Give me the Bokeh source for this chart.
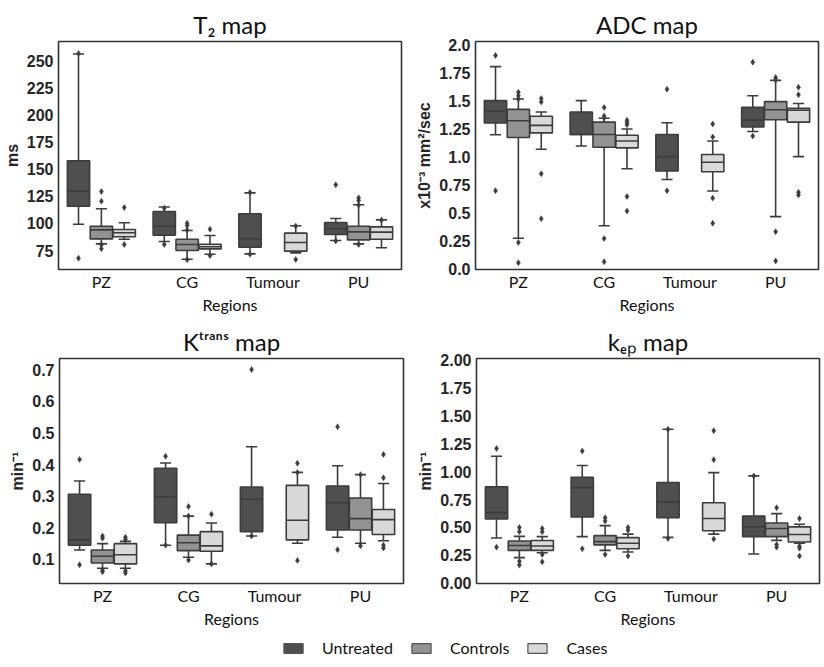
from bokeh.plotting import figure
from bokeh.models import FactorRange, ColumnDataSource, FixedTicker, Legend, LegendItem, Range1d, NumeralTickFormatter
from bokeh.transform import dodge
from bokeh.layouts import column, row
from bokeh.embed import file_html
from bokeh.resources import INLINE

REGIONS = ["PZ", "CG", "Tumour", "PU"]
GROUPS = ["Untreated", "Controls", "Cases"]

# five-number summaries per region: [whisker low, Q1, median, Q3, whisker high]
T2_UNTREATED = [[99.2, 115.8, 129.6, 157.6, 256.0], [83.3, 89.1, 97.4, 110.9, 115.0], [71.9, 78.1, 85.8, 108.8, 128.1], [84.2, 89.7, 95.0, 100.8, 104.5]]
T2_CONTROLS = [[81.1, 85.7, 94.0, 97.4, 113.4], [67.0, 75.0, 80.5, 85.4, 93.4], None, [81.1, 84.8, 92.2, 97.4, 117.1]]
T2_CASES = [[85.4, 87.6, 91.3, 94.3, 100.5], [71.6, 76.5, 78.4, 80.8, 88.8], [72.8, 74.4, 82.4, 91.0, 97.8], [77.5, 85.4, 91.9, 96.8, 103.2]]
T2_OUT_UNTREATED = [[67.9, 256.5], [80.5, 114.0], [71.5, 128.5], [135.5, 83.8]]
T2_OUT_CONTROLS = [[129.3, 120.4, 80.3, 76.6], [100.2, 98.0, 93.8, 66.5], [], [123.5, 121.0, 116.8, 80.5]]
T2_OUT_CASES = [[114.6, 80.5], [94.6, 70.3], [66.7, 97.5], [103.0]]

ADC_UNTREATED = [[1.20, 1.305, 1.41, 1.506, 1.81], [1.10, 1.202, 1.202, 1.404, 1.506], [0.80, 0.876, 1.004, 1.202, 1.307], [1.229, 1.27, 1.331, 1.445, 1.55]]
ADC_CONTROLS = [[0.274, 1.176, 1.325, 1.427, 1.52], [0.385, 1.088, 1.202, 1.313, 1.348], None, [0.467, 1.334, 1.424, 1.497, 1.687]]
ADC_CASES = [[1.071, 1.217, 1.284, 1.366, 1.404], [0.896, 1.083, 1.144, 1.196, 1.252], [0.697, 0.869, 0.954, 1.024, 1.144], [1.004, 1.313, 1.419, 1.436, 1.48]]
ADC_OUT_UNTREATED = [[1.91, 0.70], [], [1.608, 0.70], [1.85, 1.188]]
ADC_OUT_CONTROLS = [[1.58, 1.55, 1.52, 0.236, 0.055], [1.445, 1.369, 1.35, 0.271, 0.064], [], [1.713, 1.69, 0.333, 0.07]]
ADC_OUT_CASES = [[1.524, 1.494, 0.852, 0.449], [1.33, 1.31, 1.29, 0.648, 0.517], [1.296, 1.18, 0.633, 0.408], [1.625, 1.559, 0.686, 0.662]]

KT_UNTREATED = [[0.130, 0.145, 0.162, 0.306, 0.348], [0.145, 0.216, 0.298, 0.388, 0.405], [0.174, 0.188, 0.290, 0.329, 0.456], [0.170, 0.193, 0.279, 0.332, 0.396]]
KT_CONTROLS = [[0.072, 0.0886, 0.110, 0.130, 0.150], [0.107, 0.128, 0.153, 0.177, 0.237], None, [0.151, 0.193, 0.229, 0.294, 0.368]]
KT_CASES = [[0.072, 0.086, 0.115, 0.150, 0.157], [0.086, 0.126, 0.143, 0.188, 0.215], [0.151, 0.162, 0.224, 0.334, 0.375], [0.159, 0.179, 0.226, 0.258, 0.340]]
KT_OUT_UNTREATED = [[0.416, 0.083], [0.426, 0.145], [0.70, 0.174], [0.519, 0.131]]
KT_OUT_CONTROLS = [[0.174, 0.167, 0.066, 0.061], [0.267, 0.237, 0.098], [], [0.368, 0.143]]
KT_OUT_CASES = [[0.170, 0.163, 0.064, 0.057], [0.243, 0.086], [0.404, 0.375, 0.097], [0.432, 0.358, 0.145, 0.136]]

KEP_UNTREATED = [[0.405, 0.575, 0.633, 0.865, 1.138], [0.417, 0.593, 0.857, 0.95, 1.055], [0.411, 0.587, 0.727, 0.903, 1.381], [0.261, 0.417, 0.505, 0.601, 0.962]]
KEP_CONTROLS = [[0.229, 0.294, 0.338, 0.378, 0.42], [0.294, 0.343, 0.373, 0.426, 0.516], None, [0.384, 0.417, 0.49, 0.54, 0.624]]
KEP_CASES = [[0.273, 0.294, 0.334, 0.382, 0.417], [0.279, 0.308, 0.358, 0.408, 0.44], [0.44, 0.47, 0.58, 0.721, 0.991], [0.358, 0.369, 0.437, 0.505, 0.528]]
KEP_OUT_UNTREATED = [[1.208, 0.323], [1.185, 0.308], [1.381, 0.40], [0.962]]
KEP_OUT_CONTROLS = [[0.499, 0.461, 0.197, 0.162], [0.587, 0.558, 0.258], [], [0.677, 0.346, 0.323]]
KEP_OUT_CASES = [[0.49, 0.461, 0.258, 0.191], [0.499, 0.475, 0.244], [1.367, 1.108, 0.396], [0.58, 0.332, 0.314, 0.244]]

T2_TICKS = [75, 100, 125, 150, 175, 200, 225, 250]
ADC_TICKS = [0.0, 0.25, 0.5, 0.75, 1.0, 1.25, 1.5, 1.75, 2.0]
ADC_TICK_LABELS = ["0.0", "0.25", "0.5", "0.75", "1.0", "1.25", "1.5", "1.75", "2.0"]
KT_TICKS = [0.1, 0.2, 0.3, 0.4, 0.5, 0.6, 0.7]
KEP_TICKS = [0.0, 0.25, 0.5, 0.75, 1.0, 1.25, 1.5, 1.75, 2.0]

COLORS = {"Untreated": "#4f4f4f", "Controls": "#939393", "Cases": "#d9d9d9"}
LINE = "#3c3c3c"
TXT = "#262626"
CAT_FONT = "Lato"
NUM_FONT = "Liberation Sans"
HUE_W = 0.8 / 3
BOX_W = 0.26
CAP_W = 0.13
OFFSETS = {"Untreated": -HUE_W, "Controls": 0.0, "Cases": HUE_W}


def make_panel(title, ylabel, stats, outs, yr, ticks, w, h, borders):
    bl, bt, br, bb = borders
    p = figure(x_range=FactorRange(factors=REGIONS), y_range=Range1d(*yr),
               width=w, height=h,
               min_border_left=bl, min_border_top=bt, min_border_right=br, min_border_bottom=bb,
               output_backend="svg", toolbar_location=None, title=title)
    p.title.text_font = CAT_FONT
    p.title.text_font_size = "24px"
    p.title.text_font_style = "normal"
    p.title.text_color = "#111111"
    p.title.align = "center"
    p.title.standoff = 6
    p.title.offset = 0
    p.outline_line_color = "#333333"
    p.outline_line_width = 1.6
    p.xgrid.visible = False
    p.ygrid.visible = False
    for ax in (p.xaxis[0], p.yaxis[0]):
        ax.axis_line_color = None
        ax.major_tick_line_color = None
        ax.minor_tick_line_color = None
        ax.major_tick_out = 0
        ax.major_tick_in = 0
        ax.minor_tick_out = 0
    p.xaxis.major_label_text_font = CAT_FONT
    p.xaxis.major_label_text_font_size = "16px"
    p.xaxis.major_label_text_color = "#111111"
    p.xaxis.major_label_standoff = 2
    p.xaxis.axis_label = "Regions"
    p.xaxis.axis_label_text_font = CAT_FONT
    p.xaxis.axis_label_text_font_size = "16px"
    p.xaxis.axis_label_text_font_style = "normal"
    p.xaxis.axis_label_text_color = "#111111"
    p.xaxis.axis_label_standoff = 1
    p.yaxis.ticker = FixedTicker(ticks=ticks)
    p.yaxis.major_label_text_font = NUM_FONT
    p.yaxis.major_label_text_font_style = "bold"
    p.yaxis.major_label_text_font_size = "16px"
    p.yaxis.major_label_text_color = TXT
    p.yaxis.major_label_standoff = 5
    p.yaxis.axis_label = ylabel
    p.yaxis.axis_label_text_font = NUM_FONT
    p.yaxis.axis_label_text_font_style = "bold"
    p.yaxis.axis_label_text_font_size = "16px"
    p.yaxis.axis_label_text_color = TXT
    p.yaxis.axis_label_standoff = 3

    for g, gstats, gouts in zip(GROUPS, stats, outs):
        off = OFFSETS[g]
        regs, lo, q1, med, q3, hi = [], [], [], [], [], []
        for r, s in zip(REGIONS, gstats):
            if s is None:
                continue
            regs.append(r)
            lo.append(s[0]); q1.append(s[1]); med.append(s[2]); q3.append(s[3]); hi.append(s[4])
        src = ColumnDataSource(dict(region=regs, lo=lo, q1=q1, med=med, q3=q3, hi=hi))
        xc = dodge("region", off, range=p.x_range)
        xl = dodge("region", off - CAP_W / 2, range=p.x_range)
        xr = dodge("region", off + CAP_W / 2, range=p.x_range)
        bl_ = dodge("region", off - BOX_W / 2, range=p.x_range)
        br_ = dodge("region", off + BOX_W / 2, range=p.x_range)
        p.segment(x0=xc, x1=xc, y0="q3", y1="hi", source=src, line_color=LINE, line_width=1.6)
        p.segment(x0=xc, x1=xc, y0="lo", y1="q1", source=src, line_color=LINE, line_width=1.6)
        p.segment(x0=xl, x1=xr, y0="hi", y1="hi", source=src, line_color=LINE, line_width=1.6)
        p.segment(x0=xl, x1=xr, y0="lo", y1="lo", source=src, line_color=LINE, line_width=1.6)
        p.vbar(x=xc, width=BOX_W, bottom="q1", top="q3", source=src,
               fill_color=COLORS[g], line_color=LINE, line_width=1.6)
        p.segment(x0=bl_, x1=br_, y0="med", y1="med", source=src, line_color=LINE, line_width=1.6)
        oreg, oval = [], []
        for r, vals in zip(REGIONS, gouts):
            for v in vals:
                oreg.append(r); oval.append(v)
        osrc = ColumnDataSource(dict(region=oreg, val=oval))
        p.scatter(x=xc, y="val", source=osrc, marker="diamond", size=6,
                  fill_color=LINE, line_color=LINE, line_width=0.5)
    return p


p1 = make_panel("T\u2082 map", "ms",
                [T2_UNTREATED, T2_CONTROLS, T2_CASES], [T2_OUT_UNTREATED, T2_OUT_CONTROLS, T2_OUT_CASES],
                (57.5, 267.5), T2_TICKS, 412, 320, (58, 41, 11, 51))
p2 = make_panel("ADC map", "x10\u207b\u00b3 mm\u00b2/sec",
                [ADC_UNTREATED, ADC_CONTROLS, ADC_CASES], [ADC_OUT_UNTREATED, ADC_OUT_CONTROLS, ADC_OUT_CASES],
                (-0.006, 2.035), ADC_TICKS, 410, 320, (63, 36, 4, 51))
p2.yaxis.major_label_overrides = {t: l for t, l in zip(ADC_TICKS, ADC_TICK_LABELS)}
p3 = make_panel("K\u1d57\u02b3\u1d43\u207f\u02e2 map", "min\u207b\u00b9",
                [KT_UNTREATED, KT_CONTROLS, KT_CASES], [KT_OUT_UNTREATED, KT_OUT_CONTROLS, KT_OUT_CASES],
                (0.024, 0.735), KT_TICKS, 412, 310, (59, 38, 9, 42))
p4 = make_panel("k\u2091\u209a map", "min\u207b\u00b9",
                [KEP_UNTREATED, KEP_CONTROLS, KEP_CASES], [KEP_OUT_UNTREATED, KEP_OUT_CONTROLS, KEP_OUT_CASES],
                (-0.003, 2.015), KEP_TICKS, 410, 310, (64, 37, 3, 43))
p4.yaxis.formatter = NumeralTickFormatter(format="0.00")

# legend strip (helper renderers lie far outside both ranges; only their legend swatches show)
pl = figure(width=822, height=35, output_backend="svg", toolbar_location=None,
            x_range=Range1d(0, 1), y_range=Range1d(0, 1), min_border=0)
pl.axis.visible = False
pl.grid.visible = False
pl.outline_line_color = None
items = []
for g in GROUPS:
    rr = pl.vbar(x=[-50], bottom=[-50], top=[-40], width=0.1, fill_color=COLORS[g], line_color="#555555", line_width=1.2)
    items.append(LegendItem(label=g, renderers=[rr]))
leg = Legend(items=items, orientation="horizontal", location=(281, 8),
             glyph_width=24, glyph_height=12, label_standoff=17, spacing=16,
             label_text_font=CAT_FONT, label_text_font_size="16px", label_text_color="#111111",
             border_line_color=None, background_fill_alpha=0, padding=0, margin=0)
pl.add_layout(leg, "center")

layout = column(row(p1, p2), row(p3, p4), pl)
open("out.html", "w").write(file_html(layout, INLINE))
